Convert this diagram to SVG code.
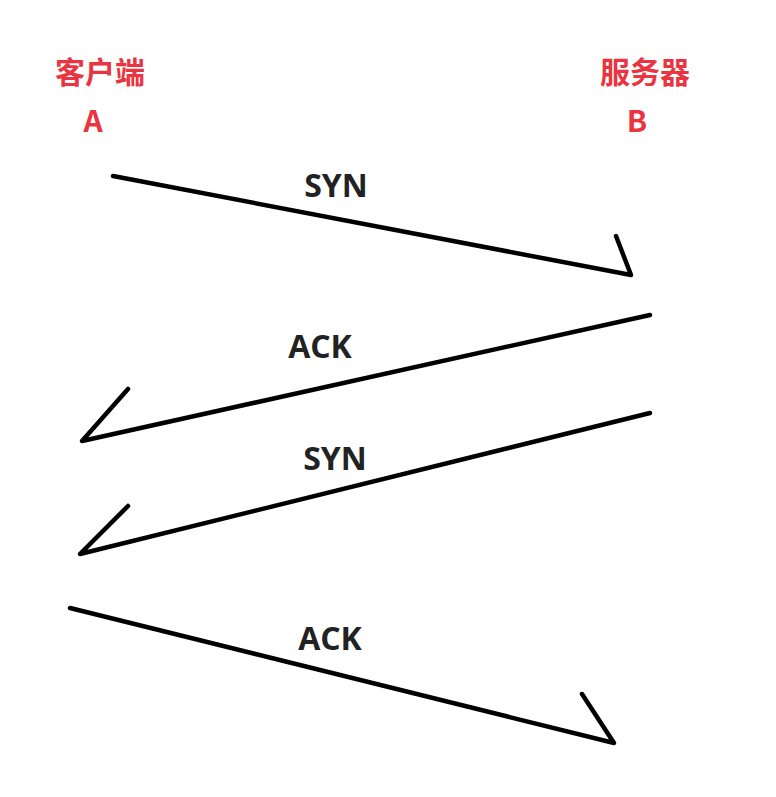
<svg xmlns="http://www.w3.org/2000/svg" width="776" height="797" viewBox="0 0 776 797">
<style>
.lbl{font-family:"Noto Sans CJK SC","Noto Sans",sans-serif;font-weight:bold;font-size:30px;fill:#ea343f;text-anchor:middle}
.msg{font-family:"Open Sans","Noto Sans",sans-serif;font-weight:bold;font-size:32px;fill:#222;text-anchor:middle}
.ln{fill:none;stroke:#000;stroke-width:4.5;stroke-linecap:round;stroke-linejoin:round}
</style>
<rect width="776" height="797" fill="#fff"/>
<g id="clientA">
<text class="lbl" x="100" y="83">客户端</text>
<text class="lbl" x="93" y="132">A</text>
</g>
<g id="serverB">
<text class="lbl" x="645" y="83">服务器</text>
<text class="lbl" x="637" y="132">B</text>
</g>
<g id="connectors">
<polyline class="ln" points="113,176 631,275 616,236"/>
<polyline class="ln" points="650,315 82,441 128,389"/>
<polyline class="ln" points="650,413 80,554 128,506"/>
<polyline class="ln" points="70,608 614,743 582,694"/>
<text class="msg" x="336" y="197">SYN</text>
<text class="msg" x="320" y="358">ACK</text>
<text class="msg" x="335" y="470">SYN</text>
<text class="msg" x="330" y="650">ACK</text>
</g>
</svg>
